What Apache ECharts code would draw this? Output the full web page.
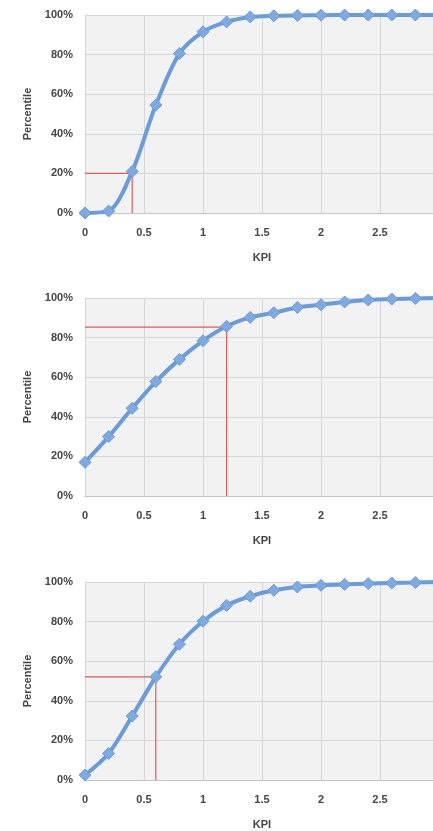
<!DOCTYPE html>
<html>
<head>
<meta charset="utf-8">
<script src="https://cdn.jsdelivr.net/npm/echarts@6/dist/echarts.min.js"></script>
<style>
html,body{margin:0;padding:0;background:#fff;overflow:hidden;}
#c{width:446px;height:831px;}
</style>
</head>
<body>
<div id="c"></div>
<script>
var kpi = [0, 0.2, 0.4, 0.6, 0.8, 1.0, 1.2, 1.4, 1.6, 1.8, 2.0, 2.2, 2.4, 2.6, 2.8, 3.0];
var pct1 = [0, 1, 21, 54.5, 80.5, 91.5, 96.5, 99, 99.6, 99.8, 99.9, 100, 100, 100, 100, 100];
var pct2 = [17, 30, 44.3, 57.8, 69, 78.4, 85.7, 90.2, 92.6, 95.2, 96.6, 98, 99, 99.5, 99.8, 100];
var pct3 = [2.5, 13.4, 32.3, 52.1, 68.6, 80.2, 88.2, 92.8, 95.8, 97.5, 98.3, 98.8, 99.2, 99.5, 99.7, 100];
var refKpi = [0.4, 1.2, 0.6];
var refPct = [20, 85.3, 52.1];
var xTicks = ['0', '0.5', '1', '1.5', '2', '2.5', '3'];
var yTicks = ['0%', '20%', '40%', '60%', '80%', '100%'];

var series = [pct1, pct2, pct3];
var tops = [15, 298, 582];
var grids = [], xAxes = [], yAxes = [], ser = [];
var labelFont = {fontFamily: 'Liberation Sans', fontSize: 11, fontWeight: 'bold', color: '#454545'};

for (var i = 0; i < 3; i++) {
  grids.push({left: 85, right: 7, top: tops[i], height: 198, show: true,
    outerBoundsMode: 'none', containLabel: false,
    backgroundColor: '#f2f2f2', borderWidth: 0});
  xAxes.push({type: 'value', gridIndex: i, min: 0, max: 3, interval: 0.5,
    name: 'KPI', nameLocation: 'middle', nameGap: 39,
    nameTextStyle: labelFont,
    axisLine: {show: true, onZero: false, lineStyle: {color: '#c4c4c4', width: 1}}, axisTick: {show: false},
    axisLabel: Object.assign({margin: 14, formatter: function (v) { return xTicks[Math.round(v * 2)]; }}, labelFont),
    splitLine: {show: true, lineStyle: {color: '#d6d6d6', width: 1}}});
  yAxes.push({type: 'value', gridIndex: i, min: 0, max: 100, interval: 20,
    name: 'Percentile', nameLocation: 'middle', nameGap: 51,
    nameTextStyle: labelFont,
    axisLine: {show: false}, axisTick: {show: false},
    axisLabel: Object.assign({margin: 12, formatter: function (v) { return yTicks[Math.round(v / 20)]; }}, labelFont),
    splitLine: {show: true, lineStyle: {color: '#d6d6d6', width: 1}}});
  ser.push({type: 'line', xAxisIndex: i, yAxisIndex: i, silent: true,
    data: [[0, refPct[i]], [refKpi[i], refPct[i]], [refKpi[i], 0]],
    symbol: 'none', lineStyle: {color: '#e05a5a', width: 1.2}, z: 3});
  ser.push({type: 'line', xAxisIndex: i, yAxisIndex: i,
    data: kpi.map(function (k, j) { return [k, series[i][j]]; }),
    smooth: 0.3, symbol: 'diamond', symbolSize: 12,
    lineStyle: {color: '#6a9bdb', width: 4},
    itemStyle: {color: '#7eaae3', borderColor: '#6a9bdb', borderWidth: 1},
    z: 4});
}

var chart = echarts.init(document.getElementById('c'), null, {renderer: 'canvas'});
chart.setOption({
  animation: false,
  backgroundColor: '#ffffff',
  grid: grids, xAxis: xAxes, yAxis: yAxes, series: ser
});
</script>
</body>
</html>
